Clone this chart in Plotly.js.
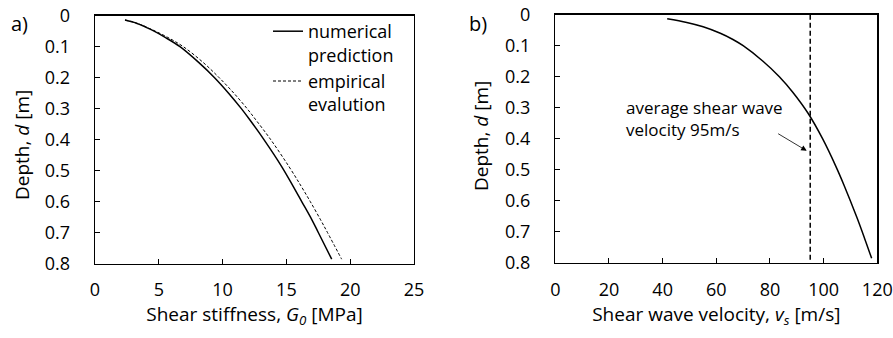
<!DOCTYPE html>
<html>
<head>
<meta charset="utf-8">
<script src="https://cdn.plot.ly/plotly-3.0.1.min.js"></script>
<style>html,body{margin:0;padding:0;background:#fff;}#chart{width:893px;height:338px;}</style>
</head>
<body>
<div id="chart"></div>
<script>
// Panel a) shear stiffness vs depth
const depthA = [0.014, 0.025, 0.046, 0.07, 0.1, 0.15, 0.2, 0.25, 0.3, 0.336, 0.4, 0.487, 0.55, 0.6, 0.659, 0.7, 0.786];
const gNumerical = [2.35, 3.3, 4.44, 5.5, 6.66, 8.1, 9.37, 10.47, 11.47, 12.13, 13.24, 14.63, 15.52, 16.2, 17.0, 17.5, 18.55];
const gEmpirical = [2.35, 3.33, 4.52, 5.7, 6.92, 8.45, 9.73, 10.88, 11.92, 12.6, 13.77, 15.2, 16.15, 16.87, 17.68, 18.22, 19.33];
// Panel b) shear wave velocity vs depth
const depthB = [0.013, 0.025, 0.039, 0.06, 0.08, 0.1, 0.15, 0.2, 0.25, 0.318, 0.4, 0.49, 0.55, 0.652, 0.72, 0.786];
const vsProfile = [41.7, 49.0, 55.1, 61.5, 66.2, 70.0, 77.4, 83.5, 88.5, 94.2, 99.6, 104.6, 107.6, 112.3, 115.2, 117.9];
const avgVs = 95;
const avgLineDepth = [0, 0.8];
const depthTicks = [0, 0.1, 0.2, 0.3, 0.4, 0.5, 0.6, 0.7, 0.8];
const depthTickText = ['0', '0.1', '0.2', '0.3', '0.4', '0.5', '0.6', '0.7', '0.8'];

const W = 893, H = 338;
const FONT = 'Open Sans, Liberation Sans, sans-serif';
const FS = 18;
const TS = 19;
const px = v => v / W;
const py = v => 1 - v / H;

const traces = [
  {x: gNumerical, y: depthA, type: 'scatter', mode: 'lines', name: 'numerical<br>prediction',
   line: {color: '#000', width: 1.5, shape: 'spline', smoothing: 1}, xaxis: 'x', yaxis: 'y'},
  {x: gEmpirical, y: depthA, type: 'scatter', mode: 'lines', name: 'empirical<br>evalution',
   line: {color: '#000', width: 1, dash: '3px,2px', shape: 'spline', smoothing: 1}, xaxis: 'x', yaxis: 'y'},
  {x: vsProfile, y: depthB, type: 'scatter', mode: 'lines', showlegend: false,
   line: {color: '#000', width: 1.5, shape: 'spline', smoothing: 1}, xaxis: 'x2', yaxis: 'y2'},
  {x: [avgVs, avgVs], y: avgLineDepth, type: 'scatter', mode: 'lines', showlegend: false,
   line: {color: '#000', width: 1.5, dash: '5px,3px'}, xaxis: 'x2', yaxis: 'y2'}
];

const axCommon = {
  showgrid: false, zeroline: false, showline: true, linecolor: '#000', linewidth: 1.3,
  mirror: true, ticks: 'inside', ticklen: 5, tickwidth: 1, tickcolor: '#000',
  tickfont: {family: FONT, size: FS, color: '#000'}, fixedrange: true
};

const layout = {
  width: W, height: H,
  margin: {l: 0, r: 0, t: 0, b: 0},
  paper_bgcolor: '#fff', plot_bgcolor: '#fff',
  font: {family: FONT, size: FS, color: '#000'},
  xaxis: Object.assign({}, axCommon, {
    domain: [px(95), px(414)], range: [0, 25], dtick: 5, tick0: 0, anchor: 'y',
    ticklabelstandoff: 10,
    title: {text: 'Shear stiffness, <i>G<sub>0</sub></i> [MPa]', font: {family: FONT, size: TS}, standoff: 5}
  }),
  yaxis: Object.assign({}, axCommon, {
    domain: [py(263.5), py(15.7)], range: [0.8, 0], tickvals: depthTicks, ticktext: depthTickText, anchor: 'x',
    ticklabelstandoff: 20
  }),
  xaxis2: Object.assign({}, axCommon, {
    domain: [px(555.3), px(877.3)], range: [0, 120], dtick: 20, tick0: 0, anchor: 'y2',
    ticklabelstandoff: 10,
    title: {text: 'Shear wave velocity, <i>v<sub>s</sub></i> [m/s]', font: {family: FONT, size: TS}, standoff: 5}
  }),
  yaxis2: Object.assign({}, axCommon, {
    domain: [py(262.7), py(14.7)], range: [0.8, 0], tickvals: depthTicks, ticktext: depthTickText, anchor: 'x2',
    ticklabelstandoff: 20
  }),
  showlegend: true,
  legend: {
    x: px(268), y: py(13), xanchor: 'left', yanchor: 'top',
    bgcolor: 'rgba(0,0,0,0)', borderwidth: 0, valign: 'top',
    font: {family: FONT, size: FS, color: '#000'}, tracegroupgap: 0
  },
  annotations: [
    {xref: 'paper', yref: 'paper', x: px(22), y: py(145), xanchor: 'center', yanchor: 'middle',
     text: 'Depth, <i>d</i> [m]', textangle: -90, showarrow: false, font: {family: FONT, size: TS}},
    {xref: 'paper', yref: 'paper', x: px(481), y: py(136), xanchor: 'center', yanchor: 'middle',
     text: 'Depth, <i>d</i> [m]', textangle: -90, showarrow: false, font: {family: FONT, size: TS}},
    {xref: 'paper', yref: 'paper', x: px(9), y: py(23), xanchor: 'left', yanchor: 'middle',
     text: 'a)', showarrow: false, font: {family: FONT, size: FS + 2}},
    {xref: 'paper', yref: 'paper', x: px(467), y: py(23), xanchor: 'left', yanchor: 'middle',
     text: 'b)', showarrow: false, font: {family: FONT, size: FS + 2}},
    {xref: 'x2', yref: 'y2', x: 25.6, y: 0.334, xanchor: 'left', yanchor: 'middle', align: 'left',
     text: 'average shear wave<br>velocity 95m/s', showarrow: false, font: {family: FONT, size: 17}},
    {xref: 'x2', yref: 'y2', x: 93.7, y: 0.439, axref: 'x2', ayref: 'y2', ax: 82.5, ay: 0.381,
     text: '', showarrow: true, arrowhead: 2, arrowsize: 1.4, arrowwidth: 0.8, arrowcolor: '#000'}
  ]
};

Plotly.newPlot('chart', traces, layout, {staticPlot: true, displayModeBar: false});
</script>
</body>
</html>
